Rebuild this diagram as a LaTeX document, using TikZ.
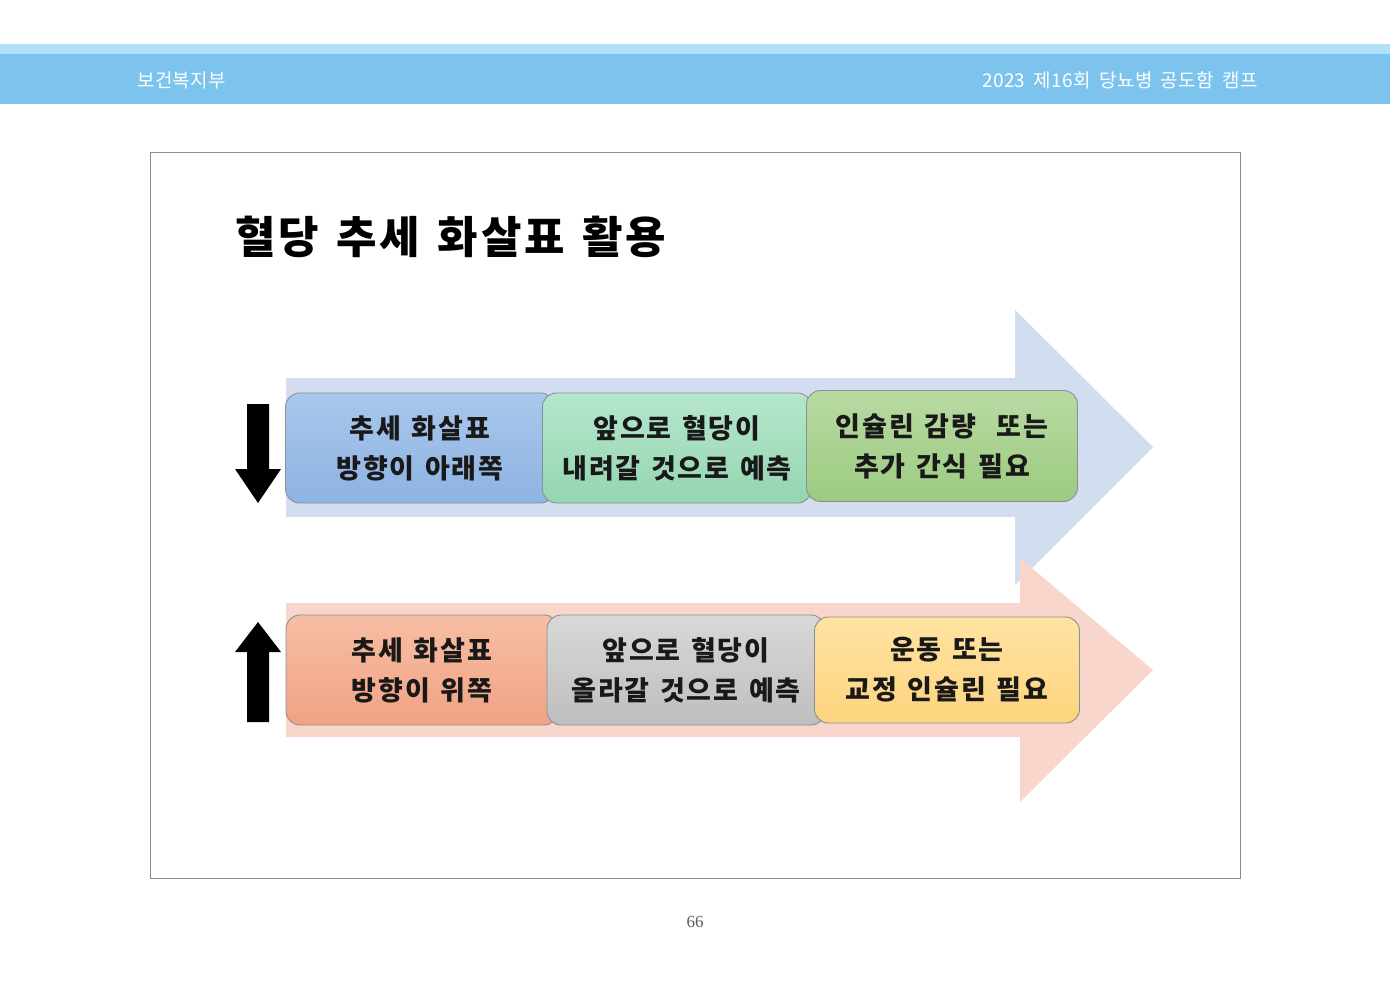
\documentclass[tikz,border=0pt]{standalone}
\usepackage{fontspec}
\setmainfont{Noto Sans CJK KR}
\newfontfamily\krfont[LetterSpace=7, WordSpace=1.3]{Noto Sans CJK KR}
\newfontfamily\headfont[LetterSpace=2, WordSpace=1.8]{Noto Sans CJK KR}
\newfontfamily\pagefont{Liberation Serif}
\usetikzlibrary{math}

\definecolor{bandblue}{HTML}{7CC3EE}
\definecolor{bandlight}{HTML}{B0E0FA}
\definecolor{arrowblue}{HTML}{D2DDF0}
\definecolor{arrowpink}{HTML}{F8D6CB}
\definecolor{boxline}{HTML}{8A8F96}

\tikzset{
  trendbox/.style={draw=boxline, line width=0.9pt, rounded corners=14pt, inner sep=0pt,
    minimum height=110pt, align=center, text=black!90,
    font=\krfont\bfseries\fontsize{27}{40}\selectfont},
  headtext/.style={text=white, inner sep=0pt, font=\headfont\fontsize{19}{20}\selectfont}
}

\begin{document}
\begin{tikzpicture}[x=1pt, y=-1pt]
            \tikzmath{\bodyL = 286; \headX = 1015; \tipX = 1153; \arrX = 258; \shW = 11; \hdW = 23;}
            \useasboundingbox (0,0) rectangle (1400,990);
            
            % header band
            \fill[bandlight] (0,44) rectangle (1390,54);
            \fill[bandblue] (0,54) rectangle (1390,104);
            \node[headtext, anchor=west] (dept) at (137,80) {보건복지부};
            \node[headtext, anchor=east] (camp) at (1258,80) {2023 제16회 당뇨병 공도함 캠프};
            
            % slide frame
            \draw[black!45, line width=0.8pt] (150,152) rectangle (1240,878);
            \node[anchor=west, inner sep=0pt, font=\krfont\bfseries\fontsize{44}{50}\selectfont] (title) at (235,237) {혈당 추세 화살표 활용};
            
            % big arrows
            \fill[arrowblue] (\bodyL,378) -- (\headX,378) -- (\headX,310) -- (\tipX,447) -- (\headX,585) -- (\headX,517) -- (\bodyL,517) -- cycle;
            \fill[arrowpink] (\bodyL,603) -- (\headX+5,603) -- (\headX+5,558) -- (\tipX,670) -- (\headX+5,802) -- (\headX+5,737) -- (\bodyL,737) -- cycle;
            
            % trend arrows
            \fill[black] (\arrX-\shW,404) -- (\arrX+\shW,404) -- (\arrX+\shW,469) -- (\arrX+\hdW,469) -- (\arrX,503) -- (\arrX-\hdW,469) -- (\arrX-\shW,469) -- cycle;
            \fill[black] (\arrX-\shW,722) -- (\arrX+\shW,722) -- (\arrX+\shW,652) -- (\arrX+\hdW,652) -- (\arrX,622) -- (\arrX-\hdW,652) -- (\arrX-\shW,652) -- cycle;
            
            % falling trend
            \node[trendbox, minimum width=269pt, top color={rgb,255:red,169;green,199;blue,236}, bottom color={rgb,255:red,141;green,179;blue,226}] (down1) at (420,448) {추세 화살표\\방향이 아래쪽};
            \node[trendbox, minimum width=269pt, top color={rgb,255:red,182;green,230;blue,205}, bottom color={rgb,255:red,148;green,214;blue,176}] (down2) at (677,448) {앞으로 혈당이\\내려갈 것으로 예측};
            \node[trendbox, minimum width=271pt, minimum height=111pt, top color={rgb,255:red,184;green,218;blue,162}, bottom color={rgb,255:red,156;green,203;blue,128}] (down3) at (942,446) {인슐린 감량~~또는\\추가 간식 필요};
            
            % rising trend
            \node[trendbox, minimum width=272pt, top color={rgb,255:red,247;green,190;blue,164}, bottom color={rgb,255:red,241;green,162;blue,131}] (up1) at (422,670) {추세 화살표\\방향이 위쪽};
            \node[trendbox, minimum width=278pt, top color={rgb,255:red,216;green,216;blue,216}, bottom color={rgb,255:red,190;green,190;blue,190}] (up2) at (686,670) {앞으로 혈당이\\올라갈 것으로 예측};
            \node[trendbox, minimum width=265pt, minimum height=106pt, top color={rgb,255:red,255;green,227;blue,162}, bottom color={rgb,255:red,253;green,212;blue,126}] (up3) at (947,670) {운동 또는\\교정 인슐린 필요};
            
            \node[text=black!65, font=\pagefont\fontsize{17}{18}\selectfont] (page) at (695,922) {66};
        \end{tikzpicture}
\end{document}
